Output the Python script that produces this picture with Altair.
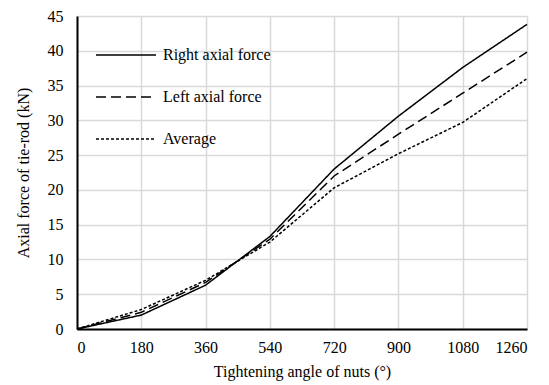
import altair as alt
import pandas as pd

angles = [0, 180, 360, 540, 720, 900, 1080, 1260]
right_force = [0, 2.0, 6.3, 13.3, 23.0, 30.6, 37.6, 43.8]
left_force = [0, 2.4, 6.7, 12.9, 22.0, 28.0, 33.9, 39.8]
average_force = [0, 2.8, 7.0, 12.5, 20.3, 25.2, 29.7, 36.0]
series_names = ["Right axial force", "Left axial force", "Average"]

rows = []
for name, vals in zip(series_names, [right_force, left_force, average_force]):
    for a, v in zip(angles, vals):
        rows.append({"angle": a, "force": v, "series": name})
df = pd.DataFrame(rows)

FONT = "Liberation Serif"

chart = alt.Chart(df).mark_line(color="black", strokeWidth=1.5).encode(
    x=alt.X("angle:Q", title="Tightening angle of nuts (°)",
            scale=alt.Scale(domain=[0, 1260], nice=False),
            axis=alt.Axis(values=angles, format="d", grid=True, ticks=False,
                          labelPadding=10, titlePadding=8)),
    y=alt.Y("force:Q", title="Axial force of tie-rod (kN)",
            scale=alt.Scale(domain=[0, 45], nice=False),
            axis=alt.Axis(values=list(range(0, 50, 5)), grid=True, ticks=False,
                          labelPadding=14, titlePadding=16)),
    strokeDash=alt.StrokeDash("series:N",
        scale=alt.Scale(domain=series_names, range=[[1, 0], [10, 5], [3, 2]]),
        legend=alt.Legend(title=None, orient="none", legendX=18, legendY=8,
                          symbolType="stroke", symbolSize=3600,
                          symbolStrokeColor="black", symbolStrokeWidth=1.5,
                          labelFontSize=16, labelFont=FONT, labelColor="black",
                          rowPadding=3, labelOffset=6)),
    detail="series:N",
).properties(
    width=450, height=313,
    autosize=alt.AutoSizeParams(type="none"),
    padding={"left": 69, "top": 8, "right": 14, "bottom": 60},
).configure_axis(
    labelFont=FONT, titleFont=FONT, labelFontSize=16, titleFontSize=16,
    labelColor="black", titleColor="black", titleFontWeight="normal",
    gridColor="#d9d9d9", gridWidth=1.5,
    domainColor="black", domainWidth=2,
).configure_view(stroke=None)

chart.save("out.html", embed_options={"renderer": "svg", "actions": False})
